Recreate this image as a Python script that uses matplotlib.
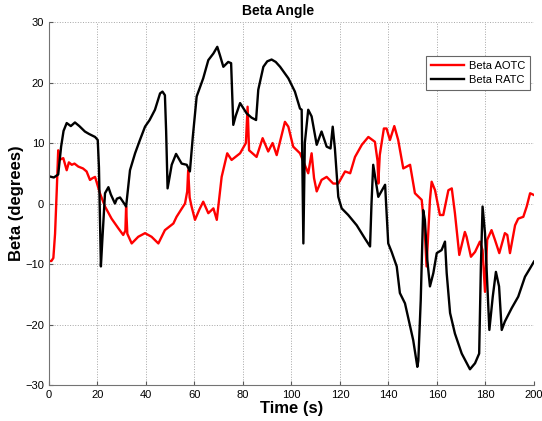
#!/usr/bin/env python
# -*- coding: utf-8 -*-

import matplotlib
matplotlib.use('Agg')
import matplotlib.pyplot as plt


# Datos (tiempo en s, angulo beta en grados)

t_aotc = [0, 1, 1.8, 2.5, 3.2, 3.8, 4.2, 5.9, 7.3, 8.2, 9.4, 10.5, 12.1, 14, 15.5,
          16.9, 18, 19, 21, 23.1, 25.8, 28.6, 30.6, 31.5, 31.8, 32.3, 34.1, 36.8,
          39.6, 42.3, 45.1, 47.8, 51.3, 52.6, 54.5, 56.1, 57, 57.4, 58, 58.8, 60.2,
          62, 63.6, 65.7, 67.8, 69.2, 71.2, 73.5, 75.3, 78.8, 81.2, 81.9, 82.5,
          85.6, 88.1, 90.4, 92.2, 93.9, 97.3, 98.7, 100.7, 103.5, 106.9, 108.3,
          109.3, 110.4, 112.4, 114.5, 117.2, 119.3, 122.1, 124.2, 126.2, 129,
          131.7, 134.4, 135.5, 135.8, 136.4, 138.1, 139.2, 140.6, 142.4, 144,
          146.1, 148.9, 150.9, 153.7, 155, 155.7, 157.1, 157.8, 159.2, 161.2,
          162.6, 164.7, 166.1, 167.4, 169.2, 171.5, 172.2, 174, 175.7, 177.7,
          178.8, 179.8, 180.7, 182.5, 183.9, 185.7, 188, 189, 190.1, 192.2, 193.5,
          195.6, 197, 198.4, 200]
beta_aotc = [-9.5, -9.5, -9, -5, 2.2, 8.8, 7.2, 7.5, 5.5, 6.8, 6.4, 6.6, 6.1, 5.8, 5.3,
             3.9, 4.2, 4.4, 1.7, -0.5, -2.5, -4.1, -5.2, -4.5, -0.5, -5, -6.6, -5.5,
             -4.9, -5.5, -6.6, -4.4, -3.3, -2.2, -1, 0, 2, 5.5, 1, -0.5, -2.7,
             -1, 0.3, -1.6, -0.8, -2.7, 4.4, 8.3, 7.2, 8.3, 10, 16, 8.8,
             7.7, 10.8, 8.6, 10, 8, 13.5, 12.7, 9.4, 8.3, 5, 8.3,
             4.2, 2, 3.9, 4.4, 3.3, 3.3, 5.3, 5, 7.7, 9.7,
             11, 10.2, 7, 3.3, 8, 12.4, 12.4, 10.5, 12.8, 10.5,
             5.8, 6.4, 1.7, 0.6, -4.9, -10.4, 0.6, 3.6, 2.2, -1.9,
             -1.9, 2.2, 2.5, -1.6, -8.5, -4.7, -5.5, -8.8, -8, -6.3,
             -7.7, -14.6, -6, -4.4, -6, -8.2, -4.9, -5.2, -8.2, -3.6, -2.5,
             -2.2, -0.5, 1.7, 1.4]

t_ratc = [0, 2, 3.8, 5, 6, 7.3, 9, 10.7, 12.5, 14.8, 16.5, 18, 19, 20.1, 20.6, 21.4,
          22, 23.1, 24.5, 25.5, 27.2, 28, 29.3, 30.5, 31.8, 33.4, 35.5, 37.5, 39.6,
          41.5, 43.7, 45.8, 46.8, 47.8, 48.3, 48.9, 50, 50.6, 52.4, 54.7, 56.8,
          58.1, 59.3, 60.9, 63.6, 65.7, 67.8, 69.4, 70.5, 71.9, 73.9, 75.1, 76,
          77, 78.8, 81.5, 83.5, 85.4, 86.3, 88.4, 90, 91.8, 93.5, 95.3, 98.7,
          101.4, 103.5, 104.2, 104.9, 105.5, 106.9, 108.3, 110.4, 112.4, 114.5,
          116.1, 117, 117.9, 119.3, 120.7, 123.4, 126.9, 130.3, 132.4, 133, 133.7,
          135.8, 138.6, 139.9, 141.3, 143.4, 144.7, 146.8, 148.2, 150.2, 151.9,
          152.3, 153.3, 154.3, 155, 156, 157.1, 158.5, 159.9, 161.9, 163.3, 164,
          165.4, 167.4, 170.2, 173.6, 175.7, 177.4, 178.1, 178.8, 179.8, 181.6,
          183, 184.3, 185.6, 186.7, 188, 190.8, 193.5, 196.3, 198.4, 200]
beta_ratc = [4.5, 4.3, 4.8, 9.4, 12, 13.3, 12.8, 13.4, 12.8, 11.9, 11.5, 11.2, 11, 10.5, 6, -10.4,
             -6, 1.7, 2.7, 1.5, 0, 0.8, 1, 0.3, -0.5, 5.5, 8.3, 10.5, 12.7,
             13.8, 15.5, 18.2, 18.5, 17.9, 12, 2.5, 5, 6.4, 8.2, 6.6, 6.4,
             5.3, 11, 17.7, 20.7, 23.7, 24.8, 25.9, 24.5, 22.6, 23.4, 23.2, 13,
             14.5, 16.6, 14.9, 14.2, 13.8, 18.8, 22.6, 23.5, 23.8, 23.4, 22.6, 20.7,
             18.5, 15.7, 15.5, -6.6, 10, 15.5, 14.4, 9.7, 11.9, 9.4,
             9.1, 12.7, 9.1, 1.1, -0.8, -1.9, -3.6, -5.8, -7.1, 0, 6.4,
             1.1, 3.1, -6.6, -8, -10.4, -14.8, -16.5, -19, -22.6, -27,
             -26, -16, -1.1, -2.7, -9.3, -13.7, -11.5, -8.2, -7.7, -6.3, -11.5,
             -18.1, -21.5, -24.8, -27.4, -26.4, -24.8, -10.4, -0.5, -4.9, -20.9,
             -15.4, -11.3, -13.7, -20.9, -19.5, -17.3, -15.4, -12.1, -10.7, -9.6]

x_ticks = [0, 20, 40, 60, 80, 100, 120, 140, 160, 180, 200]
y_ticks = [-30, -20, -10, 0, 10, 20, 30]


def main():

  plt.rcParams['font.family'] = ['Liberation Sans', 'DejaVu Sans']

  fig = plt.figure(figsize=(5.42, 4.21), dpi=100)
  ax = fig.add_axes([0.0904, 0.0855, 0.8948, 0.8622])

  ax.plot(t_aotc, beta_aotc, color='#ff0000', linewidth=1.7, label=u"Beta AOTC")
  ax.plot(t_ratc, beta_ratc, color='k', linewidth=1.7, label=u"Beta RATC")

  ax.set_xlim(0, 200)
  ax.set_ylim(-30, 30)
  ax.set_xticks(x_ticks)
  ax.set_yticks(y_ticks)
  ax.tick_params(direction='in', length=3, width=0.8, colors='0.35',
                 labelcolor='k', labelsize=8)

  # estilo matlab: sin caja, grilla punteada
  ax.spines['top'].set_visible(False)
  ax.spines['right'].set_visible(False)
  ax.spines['left'].set_color('0.45')
  ax.spines['bottom'].set_color('0.45')
  ax.grid(True, linestyle=':', color='0.65', linewidth=0.7)
  ax.set_axisbelow(True)

  ax.set_title(u"Beta Angle", fontsize=10, fontweight='bold', pad=5, x=0.472)
  ax.set_xlabel(u"Time (s)", fontsize=12, fontweight='bold', labelpad=1)
  ax.set_ylabel(u"Beta (degrees)", fontsize=12, fontweight='bold', labelpad=1)

  leg = ax.legend(loc='upper right', bbox_to_anchor=(0.992, 0.907),
                  borderaxespad=0, fontsize=8, fancybox=False,
                  handlelength=3.0, handletextpad=0.4, borderpad=0.45,
                  labelspacing=0.35)
  leg.get_frame().set_edgecolor('0.4')
  leg.get_frame().set_linewidth(0.8)
  leg.get_frame().set_alpha(1)

  plt.savefig('out.png', dpi=100)


if __name__ == "__main__":
  main()
